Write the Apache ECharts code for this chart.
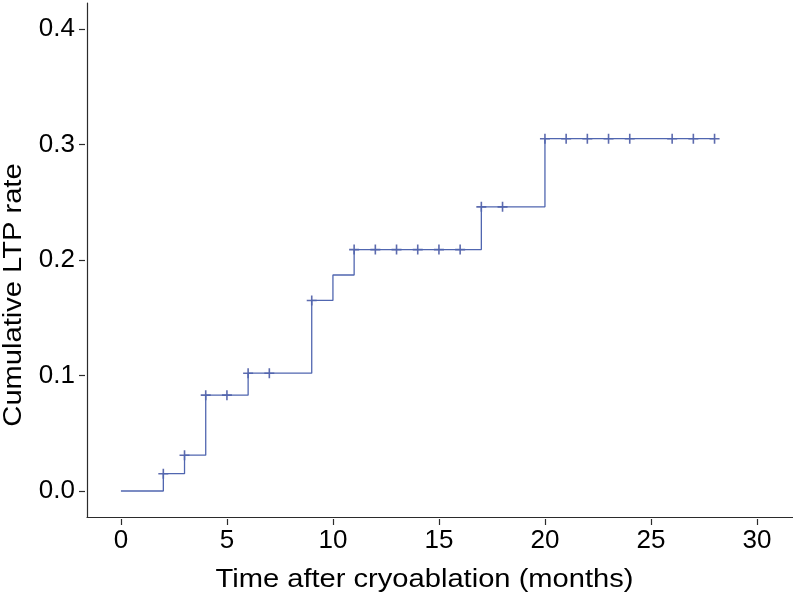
<!DOCTYPE html>
<html>
<head>
<meta charset="utf-8">
<script src="https://cdn.jsdelivr.net/npm/echarts@6/dist/echarts.min.js"></script>
<style>html,body{margin:0;padding:0;background:#fff}#c{width:793px;height:600px}</style>
</head>
<body>
<div id="c"></div>
<script>
// Kaplan-Meier style cumulative LTP rate (step at each event time)
const eventTimes = [0, 2, 3, 4, 6, 9, 10, 11, 17, 20, 28];
const eventRates = [0, 0.015, 0.031, 0.083, 0.102, 0.165, 0.187, 0.209, 0.246, 0.305, 0.305];
// Censored observations (+ marks)
const censorTimes = [2, 3, 4, 5, 6, 7, 9, 11, 12, 13, 14, 15, 16, 17, 18, 20, 21, 22, 23, 24, 26, 27, 28];
const censorRates = [0.015, 0.031, 0.083, 0.083, 0.102, 0.102, 0.165, 0.209, 0.209, 0.209, 0.209, 0.209, 0.209, 0.246, 0.246, 0.305, 0.305, 0.305, 0.305, 0.305, 0.305, 0.305, 0.305];
const xTicks = [0, 5, 10, 15, 20, 25, 30];
const yTicks = [0, 0.1, 0.2, 0.3, 0.4];
const xTitle = 'Time after cryoablation (months)';
const yTitle = 'Cumulative LTP rate';

const FONT = '"Liberation Sans", Arial, Helvetica, sans-serif';
const axisColor = '#2b2b2b';
const chart = echarts.init(document.getElementById('c'), null, {renderer: 'canvas'});

const xRange = {min: -1.6, max: 31.7};
const yRange = {min: -0.0225, max: 0.4225};

chart.setOption({
  animation: false,
  backgroundColor: '#fff',
  grid: {left: 87, right: 0, top: 3, bottom: 83, containLabel: false},
  xAxis: [
    {type: 'value', ...xRange, position: 'bottom',
     axisLine: {show: true, onZero: false, lineStyle: {color: axisColor, width: 1.2}},
     axisTick: {show: false}, axisLabel: {show: false}, splitLine: {show: false}},
    {type: 'value', ...xRange, position: 'bottom', offset: 2,
     axisLine: {show: false, onZero: false},
     axisTick: {show: true, customValues: xTicks, length: 6, lineStyle: {color: axisColor, width: 1.2}},
     axisLabel: {show: true, customValues: xTicks, margin: 9, fontSize: 26, color: '#000', fontFamily: FONT},
     splitLine: {show: false}}
  ],
  yAxis: [
    {type: 'value', ...yRange, position: 'left',
     axisLine: {show: true, onZero: false, lineStyle: {color: axisColor, width: 1.2}},
     axisTick: {show: false}, axisLabel: {show: false}, splitLine: {show: false}},
    {type: 'value', ...yRange, position: 'left', offset: 2,
     axisLine: {show: false, onZero: false},
     axisTick: {show: true, customValues: yTicks, length: 6, lineStyle: {color: axisColor, width: 1.2}},
     axisLabel: {show: true, customValues: yTicks, margin: 10, fontSize: 26, color: '#000', fontFamily: FONT,
                 formatter: v => v.toFixed(1)},
     splitLine: {show: false}}
  ],
  graphic: [
    {type: 'text', x: 424.5, y: 580, scaleX: 1.12, style: {text: xTitle, font: '26px ' + FONT, fill: '#000', textAlign: 'center', textVerticalAlign: 'middle'}},
    {type: 'text', x: 14, y: 295, rotation: Math.PI / 2, scaleX: 1.12, style: {text: yTitle, font: '26px ' + FONT, fill: '#000', textAlign: 'center', textVerticalAlign: 'middle'}}
  ],
  series: [
    {type: 'line', xAxisIndex: 0, yAxisIndex: 0, step: 'end', showSymbol: false,
     data: eventTimes.map((t, i) => [t, eventRates[i]]),
     lineStyle: {color: '#5066b0', width: 1.3}},
    {type: 'scatter', xAxisIndex: 0, yAxisIndex: 0,
     symbol: 'path://M5,0 L5,10 M0,5 L10,5', symbolSize: [10, 10],
     data: censorTimes.map((t, i) => [t, censorRates[i]]),
     itemStyle: {color: 'rgba(0,0,0,0)', borderColor: '#34469a', borderWidth: 1.6}}
  ]
});
</script>
</body>
</html>
